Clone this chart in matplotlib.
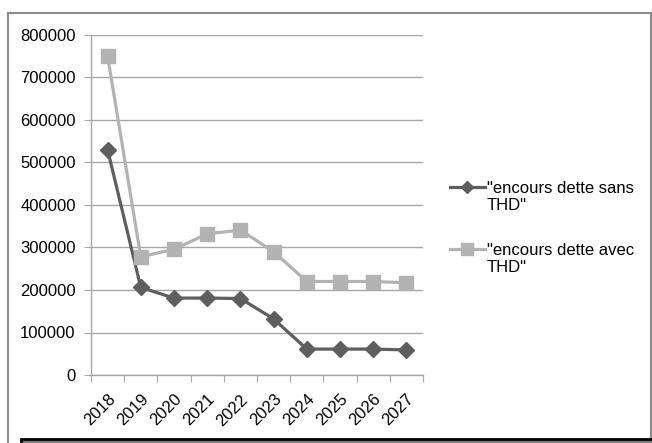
import matplotlib.pyplot as plt
from matplotlib.patches import Rectangle
from matplotlib.lines import Line2D

# data
years = ["2018", "2019", "2020", "2021", "2022", "2023", "2024", "2025", "2026", "2027"]
sans_thd = [530000, 206000, 181000, 181000, 180000, 132000, 61000, 61000, 61000, 59000]
avec_thd = [750000, 278000, 296000, 332000, 341000, 290000, 220000, 220000, 220000, 217000]
labels = ['"encours dette sans\nTHD"', '"encours dette avec\nTHD"']

DARK = "#5e5e5e"
LIGHT = "#b3b3b3"
GRID = "#a6a6a6"

plt.rcParams["font.family"] = ["Liberation Sans", "DejaVu Sans"]

fig = plt.figure(figsize=(6.52, 4.43), dpi=100)
W, H = 652, 443

def fx(px):
    return px / W

def fy(py):
    return 1 - py / H

# outer chart frame
fig.patches.append(Rectangle((fx(8), -0.05), fx(643), fy(13) + 0.05, transform=fig.transFigure,
                             fill=False, edgecolor="#8c8c8c", linewidth=1.5))
# box at the bottom (cut off)
fig.patches.append(Rectangle((fx(21), -0.05), 0.99, 0.05 + fy(438.5), transform=fig.transFigure,
                             facecolor="#808080", edgecolor="black", linewidth=2))

ax = fig.add_axes([fx(91), fy(375), fx(332), 340 / H])

x = [i + 0.5 for i in range(len(years))]
ax.plot(x, sans_thd, color=DARK, linewidth=2.3, marker="D", markersize=8, zorder=3)
ax.plot(x, avec_thd, color=LIGHT, linewidth=2.3, marker="s", markersize=10, zorder=3)

ax.set_xlim(0, len(years))
ax.set_ylim(0, 800000)
ax.set_yticks(range(0, 800001, 100000))
ax.set_yticklabels([str(v) for v in range(0, 800001, 100000)], fontsize=12)
ax.set_xticks(range(len(years) + 1))
ax.set_xticklabels([])
ax.set_xticks(x, minor=True)
ax.set_xticklabels(years, minor=True, rotation=45, ha="right", rotation_mode="anchor", fontsize=12)
ax.tick_params(axis="x", which="minor", length=0, pad=12)
ax.tick_params(axis="x", which="major", length=5, color=GRID, direction="out")
ax.tick_params(axis="y", length=5, color=GRID, direction="out", pad=6)

ax.grid(axis="y", color=GRID, linewidth=1)
ax.set_axisbelow(True)
for s in ["top", "right"]:
    ax.spines[s].set_visible(False)
for s in ["left", "bottom"]:
    ax.spines[s].set_color(GRID)
    ax.spines[s].set_linewidth(1)

# legend drawn by hand so the symbol sits on the first text line
for lab, color, mk, ms, ly in [(labels[0], DARK, "D", 6, 187), (labels[1], LIGHT, "s", 8, 249)]:
    fig.add_artist(Line2D([fx(450), fx(485)], [fy(ly), fy(ly)], color=color, linewidth=2.3,
                          transform=fig.transFigure))
    fig.add_artist(Line2D([fx(467)], [fy(ly)], color=color, marker=mk, markersize=ms,
                          transform=fig.transFigure))
    fig.text(fx(487), fy(ly + 10), lab, fontsize=12, va="center", ha="left", linespacing=1.15)

fig.savefig("out.png", dpi=100)
